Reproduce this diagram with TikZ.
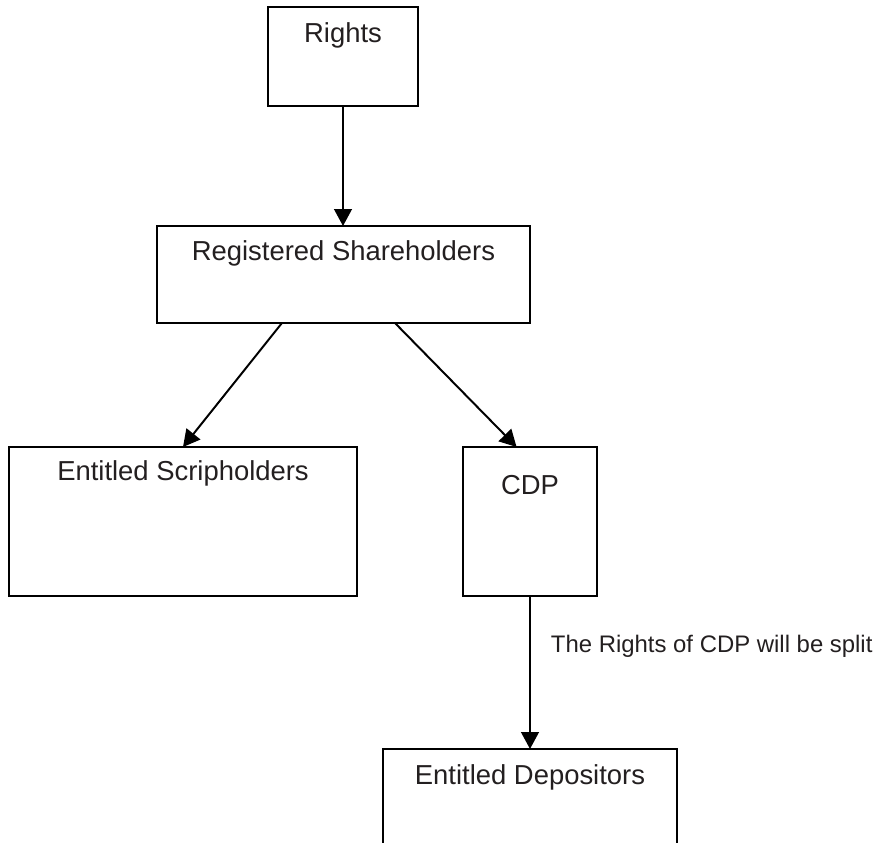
\documentclass[tikz,border=0pt]{standalone}
\usepackage{fontspec}
\setmainfont{Liberation Sans}
\usepackage{tikz}
\usetikzlibrary{arrows.meta,positioning,calc}
\definecolor{texteGris}{RGB}{35,31,32}

\begin{document}
\begin{tikzpicture}[x=0.025cm,y=-0.025cm,
  every label/.style={font=\fontsize{19.5}{23}\selectfont,text=texteGris},
  boite/.style={rectangle,draw=black,line width=0.9pt,inner sep=0pt,outer sep=0pt,
                label distance=0pt},
  fleche/.style={-{Triangle[length=4.2mm,width=4.4mm]},line width=1.4pt}]

  \useasboundingbox (0,0) rectangle (877,843);
  \clip (0,0) rectangle (877,843);

  \node[boite,minimum width=3.75cm,minimum height=2.475cm,
        label={[anchor=center,yshift=-0.7cm]north:Rights}] (Rights) at (343,56.5) {};
  \node[boite,minimum width=9.325cm,minimum height=2.425cm,
        label={[anchor=center,yshift=-0.675cm]north:Registered Shareholders}] (Registered) at (343.5,274.5) {};
  \node[boite,minimum width=8.7cm,minimum height=3.725cm,
        label={[anchor=center,yshift=-0.65cm]north:Entitled Scripholders}] (Scripholders) at (183,521.5) {};
  \node[boite,minimum width=3.35cm,minimum height=3.725cm,
        label={[anchor=center,yshift=-0.95cm]north:CDP}] (CDP) at (530,521.5) {};
  \node[boite,minimum width=7.35cm,minimum height=3.75cm,
        label={[anchor=center,yshift=-0.7cm]north:Entitled Depositors}] (Depositors) at (530,824) {};

  \draw[fleche] (Rights.south)--(Registered.north -| Rights.south);
  \draw[fleche] ($(Registered.south west)!0.335!(Registered.south east)$)--(Scripholders.north);
  \draw[fleche] ($(Registered.south west)!0.638!(Registered.south east)$)
    --($(CDP.north west)!0.4!(CDP.north east)$);
  \draw[fleche] (CDP.south)--(Depositors.north)
    node[pos=0.33,anchor=west,inner sep=0pt,xshift=0.5cm,text=texteGris,
         font=\fontsize{17}{20}\selectfont] {The Rights of CDP will be split};
\end{tikzpicture}
\end{document}
